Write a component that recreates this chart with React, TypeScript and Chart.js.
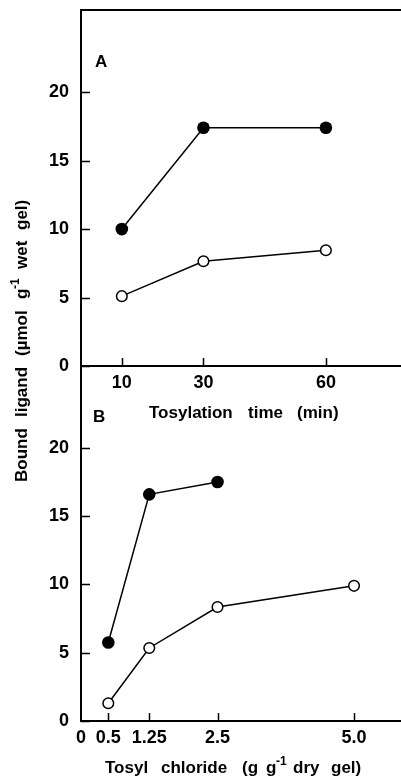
import React, { useEffect, useRef } from "react";
import { Chart, registerables } from "chart.js";

Chart.register(...registerables);

// ---- data ----
const timeMinutes = [10, 30, 60];
const timeFilled = [10.0, 17.4, 17.4];
const timeOpen = [5.1, 7.65, 8.45];

const tosylAmount = [0.5, 1.25, 2.5, 5.0];
const tosylFilled = [5.75, 16.6, 17.5];
const tosylOpen = [1.3, 5.35, 8.35, 9.9];

const yTickValues = [0, 5, 10, 15, 20];
const timeTickValues = [10, 30, 60];
const tosylTickValues = [0, 0.5, 1.25, 2.5, 5.0];
const tosylTickLabels = ["0", "0.5", "1.25", "2.5", "5.0"];
const tosylTickMarks = [0.5, 1.25, 2.5, 5.0];

const FONT = "'Liberation Sans', Arial, sans-serif";

type Seg = { t: string; at: number; sup?: boolean };

function drawWords(ctx: CanvasRenderingContext2D, segs: Seg[], size: number) {
  for (const s of segs) {
    if (s.sup) {
      ctx.font = `bold ${Math.round(size * 0.72)}px ${FONT}`;
      ctx.fillText(s.t, s.at, -size * 0.5);
    } else {
      ctx.font = `bold ${size}px ${FONT}`;
      ctx.fillText(s.t, s.at, 0);
    }
  }
}

const framePlugin = {
  id: "frame",
  beforeDatasetsDraw(chart: any, _args: any, opts: any) {
    const { ctx, chartArea: ca, scales } = chart;
    ctx.save();
    ctx.strokeStyle = "#000";
    ctx.lineWidth = 2;
    ctx.beginPath();
    ctx.moveTo(ca.left, ca.top);
    ctx.lineTo(ca.left, ca.bottom + 1);
    ctx.moveTo(ca.left - 1, ca.bottom);
    ctx.lineTo(ca.right, ca.bottom);
    if (opts.drawTop) {
      ctx.moveTo(ca.left - 1, ca.top);
      ctx.lineTo(ca.right, ca.top);
    }
    ctx.stroke();
    ctx.lineWidth = 1.5;
    ctx.beginPath();
    for (const v of opts.xMarks as number[]) {
      const px = Math.round(scales.x.getPixelForValue(v)) + 0.5;
      ctx.moveTo(px, ca.bottom);
      ctx.lineTo(px, ca.bottom - 8);
    }
    for (const v of opts.yMarks as number[]) {
      const py = Math.round(scales.y.getPixelForValue(v)) + 0.5;
      ctx.moveTo(ca.left, py);
      ctx.lineTo(ca.left + 9, py);
    }
    ctx.stroke();
    ctx.restore();
  },
  afterDraw(chart: any, _args: any, opts: any) {
    if (!opts.texts) return;
    const { ctx } = chart;
    ctx.save();
    ctx.fillStyle = "#000";
    ctx.textAlign = "left";
    ctx.textBaseline = "alphabetic";
    for (const item of opts.texts) {
      ctx.save();
      ctx.translate(item.x, item.y);
      if (item.rotate) ctx.rotate(item.rotate);
      drawWords(ctx, item.segs, item.size);
      ctx.restore();
    }
    ctx.restore();
  },
};

const tickFont = { family: FONT, weight: "bold" as const, size: 18 };

function makeYScale() {
  return {
    type: "linear",
    min: 0,
    max: 26,
    grid: { display: false, drawTicks: false },
    border: { display: false },
    afterBuildTicks: (s: any) => {
      s.ticks = yTickValues.map((v) => ({ value: v }));
    },
    afterFit: (s: any) => {
      s.width = 81;
      s.paddingTop = 0;
      s.paddingBottom = 0;
    },
    ticks: { font: tickFont, color: "#000", padding: 12, autoSkip: false },
  };
}

const filledStyle = {
  showLine: true,
  borderColor: "#000",
  borderWidth: 1.5,
  pointRadius: 6.3,
  pointBackgroundColor: "#000",
  pointBorderColor: "#000",
  pointBorderWidth: 0,
};
const openStyle = {
  showLine: true,
  borderColor: "#000",
  borderWidth: 1.5,
  pointRadius: 5.3,
  pointBackgroundColor: "#fff",
  pointBorderColor: "#000",
  pointBorderWidth: 1.5,
};

export default function App() {
  const refA = useRef<HTMLCanvasElement>(null);
  const refB = useRef<HTMLCanvasElement>(null);

  useEffect(() => {
    const chartA = new Chart(refA.current as HTMLCanvasElement, {
      type: "scatter",
      data: {
        datasets: [
          { ...filledStyle, data: timeMinutes.map((x, i) => ({ x, y: timeFilled[i] })) },
          { ...openStyle, data: timeMinutes.map((x, i) => ({ x, y: timeOpen[i] })) },
        ],
      } as any,
      options: {
        animation: false,
        responsive: false,
        maintainAspectRatio: false,
        layout: { autoPadding: false, padding: { top: 10, left: 0, right: 0, bottom: 0 } },
        plugins: {
          legend: { display: false },
          tooltip: { enabled: false },
          frame: {
            drawTop: true,
            xMarks: timeTickValues,
            yMarks: yTickValues,
            texts: [
              { x: 95, y: 67, size: 17, segs: [{ t: "A", at: 0 }] },
              { x: 93, y: 422, size: 17, segs: [{ t: "B", at: 0 }] },
              {
                x: 149,
                y: 418,
                size: 17,
                segs: [
                  { t: "Tosylation", at: 0 },
                  { t: "time", at: 99 },
                  { t: "(min)", at: 148 },
                ],
              },
              {
                x: 105,
                y: 773,
                size: 17,
                segs: [
                  { t: "Tosyl", at: 0 },
                  { t: "chloride", at: 56 },
                  { t: "(g", at: 137 },
                  { t: "g", at: 161 },
                  { t: "-1", at: 171, sup: true },
                  { t: "dry", at: 188 },
                  { t: "gel)", at: 226 },
                ],
              },
              {
                x: 27,
                y: 482,
                size: 17,
                rotate: -Math.PI / 2,
                segs: [
                  { t: "Bound", at: 0 },
                  { t: "ligand", at: 65 },
                  { t: "(µmol", at: 126 },
                  { t: "g", at: 183 },
                  { t: "-1", at: 193, sup: true },
                  { t: "wet", at: 213 },
                  { t: "gel)", at: 252 },
                ],
              },
            ],
          },
        } as any,
        scales: {
          x: {
            type: "linear",
            min: 0,
            max: 78.4,
            grid: { display: false, drawTicks: false },
            border: { display: false },
            afterBuildTicks: (s: any) => {
              s.ticks = timeTickValues.map((v) => ({ value: v }));
            },
            afterFit: (s: any) => {
              s.height = 779 - 366;
              s.paddingLeft = 0;
              s.paddingRight = 0;
            },
            ticks: { font: tickFont, color: "#000", padding: 6, maxRotation: 0, autoSkip: false },
          },
          y: makeYScale(),
        } as any,
      },
      plugins: [framePlugin],
    });

    const chartB = new Chart(refB.current as HTMLCanvasElement, {
      type: "scatter",
      data: {
        datasets: [
          { ...filledStyle, data: tosylFilled.map((y, i) => ({ x: tosylAmount[i], y })) },
          { ...openStyle, data: tosylAmount.map((x, i) => ({ x, y: tosylOpen[i] })) },
        ],
      } as any,
      options: {
        animation: false,
        responsive: false,
        maintainAspectRatio: false,
        layout: { autoPadding: false, padding: { top: 6, left: 0, right: 0, bottom: 0 } },
        plugins: {
          legend: { display: false },
          tooltip: { enabled: false },
          frame: { drawTop: false, xMarks: tosylTickMarks, yMarks: yTickValues },
        } as any,
        scales: {
          x: {
            type: "linear",
            min: 0,
            max: 5.86,
            grid: { display: false, drawTicks: false },
            border: { display: false },
            afterBuildTicks: (s: any) => {
              s.ticks = tosylTickValues.map((v) => ({ value: v }));
            },
            afterFit: (s: any) => {
              s.height = 58;
              s.paddingLeft = 0;
              s.paddingRight = 0;
            },
            ticks: {
              font: tickFont,
              color: "#000",
              padding: 6,
              maxRotation: 0,
              autoSkip: false,
              callback: (_v: any, i: number) => tosylTickLabels[i],
            },
          },
          y: makeYScale(),
        } as any,
      },
      plugins: [framePlugin],
    });

    return () => {
      chartA.destroy();
      chartB.destroy();
    };
  }, []);

  return (
    <div style={{ position: "absolute", left: 0, top: 0, width: 401, height: 779, background: "#fff", overflow: "hidden" }}>
      <canvas ref={refA} width={401} height={779} style={{ position: "absolute", left: 0, top: 0, width: 401, height: 779 }} />
      <canvas ref={refB} width={401} height={419} style={{ position: "absolute", left: 0, top: 360, width: 401, height: 419 }} />
    </div>
  );
}
